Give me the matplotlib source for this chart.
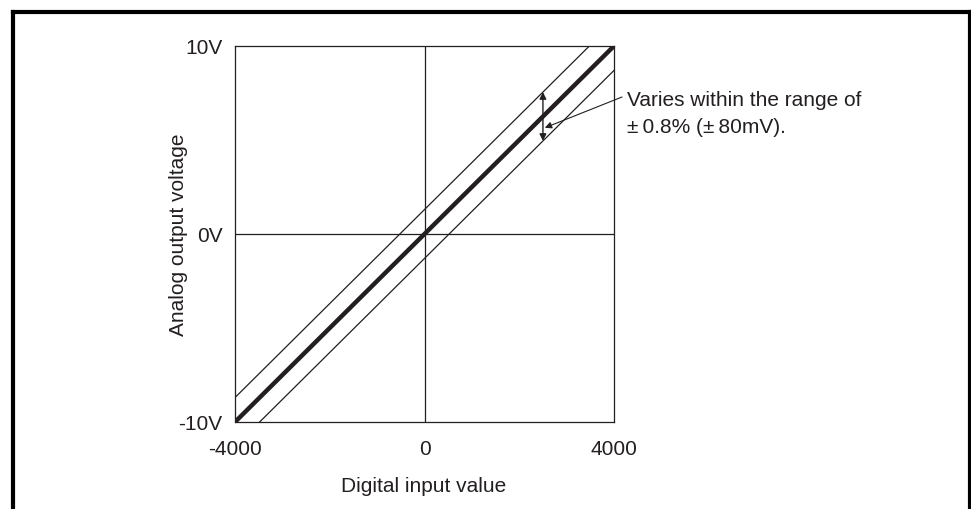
"""Analog output voltage vs digital input value (accuracy band)."""

import matplotlib

matplotlib.use("Agg")

import matplotlib.pyplot as plt
from matplotlib.lines import Line2D

plt.rcParams["font.family"] = ["Liberation Sans", "DejaVu Sans"]

# data
digital_input = [-4000, 4000]
analog_output = [-10.0, 10.0]
band_offset = 1.3  # drawn band half-width (exaggerated), V
arrow_x = 2500
x_ticks = [-4000, 0, 4000]
x_tick_labels = ["-4000", "0", "4000"]
y_ticks = [-10, 0, 10]
y_tick_labels = ["-10V", "0V", "10V"]
note_text = "Varies within the range of\n\u00b1\u20090.8% (\u00b1\u200980mV)."

W, H = 971, 510
fig = plt.figure(figsize=(W / 100, H / 100), dpi=100)
ax = fig.add_axes([235 / W, 1 - 423 / H, 379 / W, 376 / H])

ink = "#231f20"
ax.plot(digital_input, analog_output, color=ink, lw=3.2, solid_capstyle="butt")
ax.plot(digital_input, [v + band_offset for v in analog_output], color=ink, lw=0.9)
ax.plot(digital_input, [v - band_offset for v in analog_output], color=ink, lw=0.9)
ax.axhline(0, color=ink, lw=0.9)
ax.axvline(0, color=ink, lw=0.9)

ax.set_xlim(digital_input[0], digital_input[1])
ax.set_ylim(analog_output[0], analog_output[1])
ax.set_xticks(x_ticks)
ax.set_xticklabels(x_tick_labels)
ax.set_yticks(y_ticks)
ax.set_yticklabels(y_tick_labels)
ax.tick_params(length=0, labelsize=15, colors=ink)
ax.tick_params(axis="x", pad=12)
ax.tick_params(axis="y", pad=9)
for spine in ax.spines.values():
    spine.set_linewidth(0.9)
    spine.set_color(ink)

fig.text(424 / W, 1 - 492 / H, "Digital input value", fontsize=15, color=ink,
         ha="center", va="baseline")
fig.text(178 / W, 1 - 235 / H, "Analog output voltage", fontsize=15, color=ink,
         ha="center", va="center", rotation=90)

# double-headed arrow across the band
y_mid = arrow_x * analog_output[1] / digital_input[1]
ax.annotate(
    "",
    xy=(arrow_x, y_mid + band_offset),
    xytext=(arrow_x, y_mid - band_offset),
    arrowprops=dict(arrowstyle="<|-|>", color=ink, lw=1.0,
                    mutation_scale=10, shrinkA=0, shrinkB=0),
)
# leader line from the note to the band
ax.annotate(
    "",
    xy=(arrow_x + 40, y_mid - 0.6),
    xytext=(622, H - 98),
    textcoords="figure pixels",
    annotation_clip=False,
    arrowprops=dict(arrowstyle="-|>", color=ink, lw=0.8,
                    mutation_scale=10, shrinkA=0, shrinkB=0),
)
fig.text(627 / W, 1 - 114 / H, note_text, fontsize=15, color=ink,
         ha="left", va="center", linespacing=1.5)

# outer frame (open at the bottom)
frame = dict(color="black", lw=3.0, solid_capstyle="projecting")
lx, rx, ty = 12.5 / W, 969.5 / W, 1 - 12.5 / H
fig.lines.append(Line2D([lx, lx], [0, ty], transform=fig.transFigure, **frame))
fig.lines.append(Line2D([lx, rx], [ty, ty], transform=fig.transFigure, **frame))
fig.lines.append(Line2D([rx, rx], [0, ty], transform=fig.transFigure, **frame))

fig.savefig("out.png", dpi=100)
